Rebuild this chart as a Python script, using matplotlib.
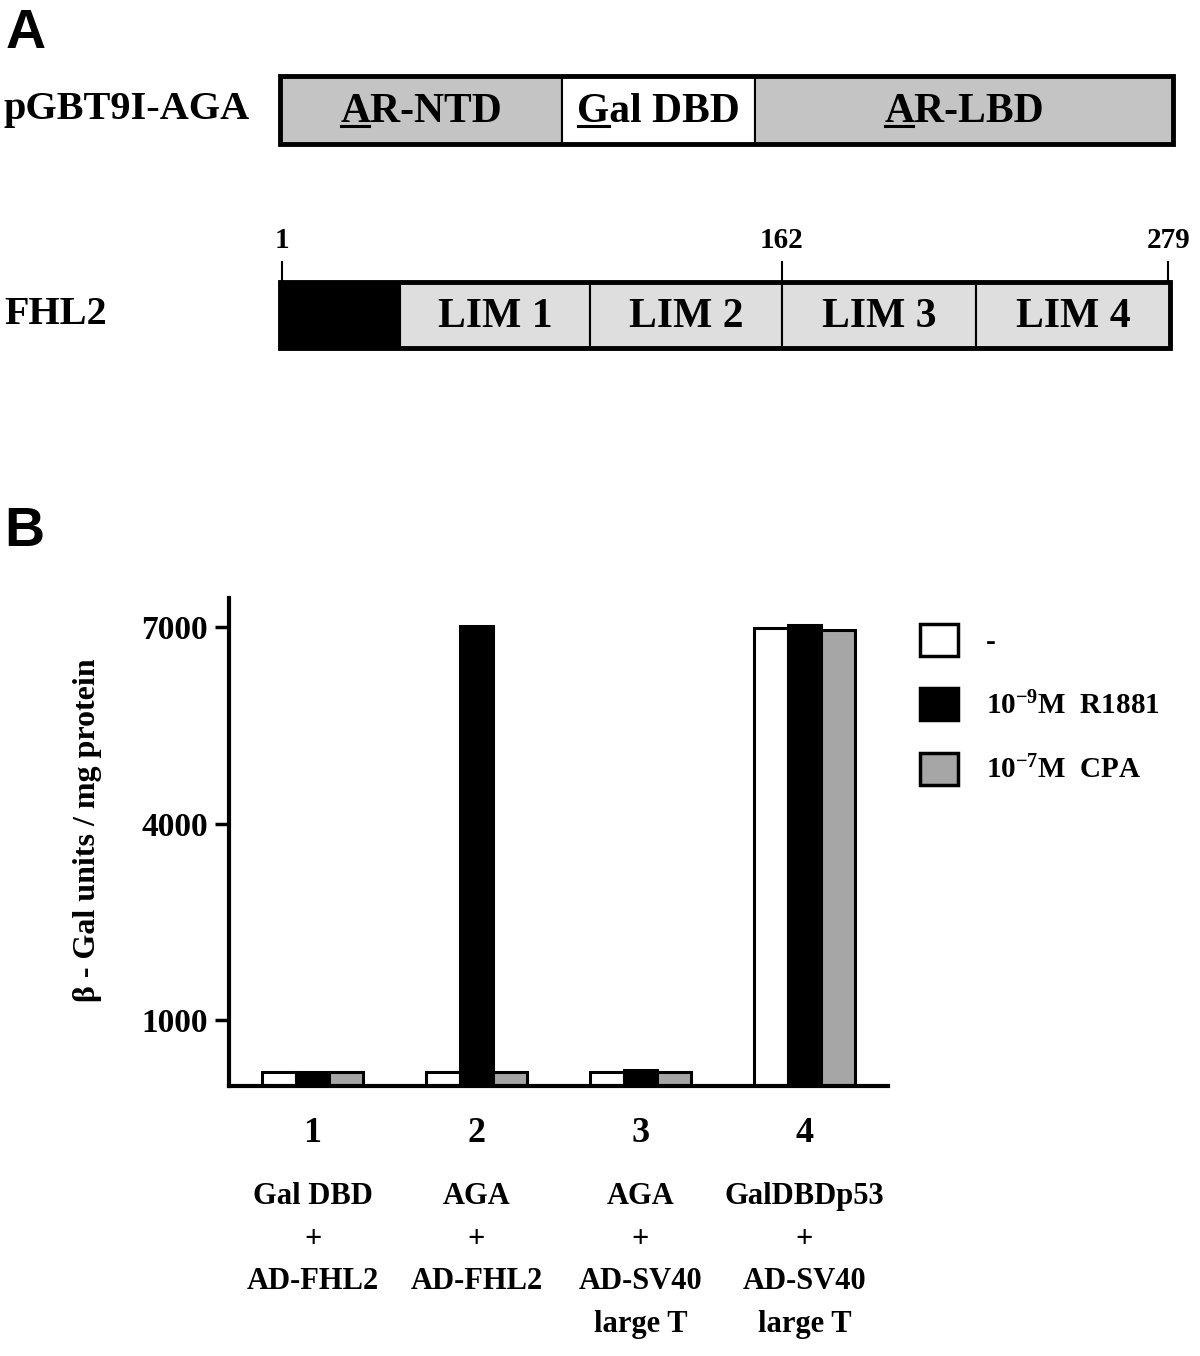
import numpy as np
import matplotlib
matplotlib.use('Agg')
import matplotlib.pyplot as plt
from matplotlib.patches import Rectangle
from matplotlib.transforms import blended_transform_factory

plt.rcParams['font.family'] = ['Liberation Serif', 'DejaVu Serif']
plt.rcParams['font.weight'] = 'bold'
plt.rcParams['mathtext.fontset'] = 'custom'
plt.rcParams['mathtext.rm'] = 'Liberation Serif:bold'
plt.rcParams['mathtext.it'] = 'Liberation Serif:bold'
plt.rcParams['mathtext.bf'] = 'Liberation Serif:bold'

# ---- panel A : schematic constructs (schematic length units 0..100)
aga_names = ['AR-NTD', 'Gal DBD', 'AR-LBD']
aga_edges = [0, 31.7, 53.4, 100.3]
aga_colors = ['#c4c4c4', 'white', '#c4c4c4']

fhl2_names = ['', 'LIM 1', 'LIM 2', 'LIM 3', 'LIM 4']
fhl2_edges = [0, 13.5, 34.8, 56.4, 78.2, 100]
fhl2_colors = ['black', '#dedede', '#dedede', '#dedede', '#dedede']
res_pos = [0.2, 56.4, 99.8]
res_labels = ['1', '162', '279']

# ---- panel B : beta-gal activity
group_ids = ['1', '2', '3', '4']
group_text = ['Gal DBD\n+\nAD-FHL2', 'AGA\n+\nAD-FHL2',
              'AGA\n+\nAD-SV40\nlarge T', 'GalDBDp53\n+\nAD-SV40\nlarge T']
vals_none = [220, 220, 220, 6990]
vals_r1881 = [220, 7010, 250, 7030]
vals_cpa = [220, 220, 220, 6950]
legend_labels = ['-', '10$^{-9}$M  R1881', '10$^{-7}$M  CPA']
bar_colors = ['white', 'black', '#a6a6a6']

W, H = 1200, 1356
fig = plt.figure(figsize=(12, 13.56), dpi=100)

def fx(px):
    return px / W

def fy(py):
    return 1 - py / H

BOXFS = 30

# ------------------------------------------------ panel A
fig.text(fx(6), fy(8), 'A', family='Liberation Sans', fontsize=40,
         fontweight='bold', va='top', ha='left')
fig.text(fx(4), fy(506), 'B', family='Liberation Sans', fontsize=40,
         fontweight='bold', va='top', ha='left')

axa = fig.add_axes([fx(280), fy(360), fx(890), 300 / H])
axa.set_xlim(0, 100)
axa.set_ylim(300, 0)
axa.axis('off')

def draw_construct(ax, edges, names, colors, ytop, h):
    for i in range(len(names)):
        r = Rectangle((edges[i], ytop), edges[i + 1] - edges[i], h,
                      facecolor=colors[i], edgecolor='black', lw=1.5,
                      clip_on=False)
        ax.add_patch(r)
        if names[i]:
            ax.text((edges[i] + edges[i + 1]) / 2, ytop + h / 2 + 2, names[i],
                    fontsize=BOXFS, ha='center', va='center')
    ax.add_patch(Rectangle((edges[0], ytop), edges[-1] - edges[0], h,
                           facecolor='none', edgecolor='black', lw=3.5,
                           clip_on=False))

draw_construct(axa, aga_edges, aga_names, aga_colors, 16, 68)
draw_construct(axa, fhl2_edges, fhl2_names, fhl2_colors, 222, 66)

# underline first letters of AGA segment labels
fig.canvas.draw()
rend = fig.canvas.get_renderer()
for t in axa.texts:
    if t.get_text() in aga_names:
        bb = t.get_window_extent(rend)
        tmp = fig.text(0, 0, t.get_text()[0], fontsize=BOXFS)
        wb = tmp.get_window_extent(rend)
        tmp.remove()
        inv = axa.transData.inverted()
        x0, y0 = inv.transform((bb.x0 + 1, bb.y0 + 5))
        x1, _ = inv.transform((bb.x0 + wb.width - 1, bb.y0 + 5))
        axa.plot([x0, x1], [y0, y0], color='black', lw=2.2, clip_on=False)

for p, lab in zip(res_pos, res_labels):
    axa.plot([p, p], [222, 202], color='black', lw=1.5, clip_on=False)
    axa.text(p, 180, lab, fontsize=21, ha='center', va='center')

fig.text(fx(4), fy(110), 'pGBT9I-AGA', fontsize=29, ha='left', va='center')
fig.text(fx(4), fy(315), 'FHL2', fontsize=29, ha='left', va='center')

# ------------------------------------------------ panel B
ax = fig.add_axes([fx(229), fy(1086), fx(659), (1086 - 598) / H])
x = np.arange(len(group_ids))
bw = 0.205
b1 = ax.bar(x - bw, vals_none, bw, color=bar_colors[0], edgecolor='black', lw=2.2)
b2 = ax.bar(x, vals_r1881, bw, color=bar_colors[1], edgecolor='black', lw=2.2)
b3 = ax.bar(x + bw, vals_cpa, bw, color=bar_colors[2], edgecolor='black', lw=2.2)

ax.set_xlim(-0.51, 3.51)
ax.set_ylim(0, 7440)
ax.set_yticks([1000, 4000, 7000])
ax.set_yticklabels(['1000', '4000', '7000'], fontsize=24, fontweight='bold')
ax.set_xticks([])
for s in ['top', 'right']:
    ax.spines[s].set_visible(False)
for s in ['left', 'bottom']:
    ax.spines[s].set_linewidth(3)
ax.tick_params(axis='y', length=10, width=2.5, pad=5)

fig.text(fx(88), fy(830), 'β - Gal units / mg protein', rotation=90,
         fontsize=23, ha='center', va='center')

tr = blended_transform_factory(ax.transData, fig.transFigure)
for xi, gid, gtxt in zip(x, group_ids, group_text):
    ax.text(xi, fy(1133), gid, transform=tr, fontsize=26, ha='center',
            va='center')
    ax.text(xi, fy(1182), gtxt, transform=tr, fontsize=22, ha='center',
            va='top', linespacing=1.62)

leg = ax.legend([b1, b2, b3], legend_labels, loc='upper left',
                bbox_to_anchor=(fx(920), fy(624)),
                bbox_transform=fig.transFigure, frameon=False,
                prop={'size': 21, 'weight': 'bold'}, borderpad=0,
                borderaxespad=0, handlelength=1.3, handleheight=1.3,
                handletextpad=0.95, labelspacing=1.12)
for h in leg.legend_handles:
    h.set_linewidth(2.5)

fig.savefig('out.png', dpi=100, facecolor='white')
